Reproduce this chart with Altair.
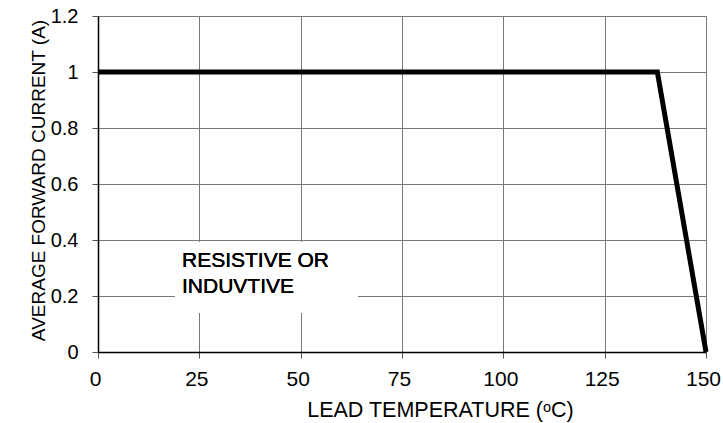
import altair as alt
import pandas as pd

temps = [0, 138, 150]
currents = [1, 1, 0]
x_ticks = [0, 25, 50, 75, 100, 125, 150]
y_ticks = [0, 0.2, 0.4, 0.6, 0.8, 1.0, 1.2]
note_lines = ["RESISTIVE OR", "INDUVTIVE"]

df = pd.DataFrame({"t": temps, "i": currents})

FONT = "Liberation Sans"

x_enc = alt.X("t:Q", scale=alt.Scale(domain=[0, 150], nice=False),
              axis=alt.Axis(values=x_ticks, title="LEAD TEMPERATURE (\u1d52C)", format="d",
                            labelFontSize=21, titleFontSize=21.5, labelFont=FONT, titleFont=FONT,
                            labelColor="black", titleColor="black", titleFontWeight="normal",
                            tickSize=6, labelPadding=10, labelOffset=-3,
                            gridColor="#777", gridWidth=1,
                            tickColor="#555", domainColor="black", domainWidth=1.5,
                            titleX=342, titleY=64, titleBaseline="alphabetic",
                            titleAnchor="start", titleAlign="center", labelFlush=False))
y_enc = alt.Y("i:Q", scale=alt.Scale(domain=[0, 1.2], nice=False),
              axis=alt.Axis(values=y_ticks, title="AVERAGE FORWARD CURRENT (A)", format="~g",
                            labelFontSize=20, titleFontSize=19, labelFont=FONT, titleFont=FONT,
                            labelColor="black", titleColor="black", titleFontWeight="normal",
                            tickSize=6, labelPadding=14, gridColor="#777", gridWidth=1,
                            tickColor="#555", domainColor="black", domainWidth=1.5,
                            titleX=-54, titleY=164, titleBaseline="alphabetic",
                            titleAngle=-90, titleAlign="center", titleAnchor="start",
                            labelFlush=False))

base = alt.Chart(df)

line = base.mark_line(color="black", strokeWidth=5, strokeJoin="miter", clip=False).encode(
    x=x_enc, y=y_enc)

box = base.mark_rect(color="white").encode(
    x=alt.value(77), x2=alt.value(260), y=alt.value(226), y2=alt.value(297))

note = base.mark_text(text=note_lines, align="left", baseline="alphabetic", fontSize=21,
                      font=FONT, color="black", lineHeight=26).encode(
    x=alt.value(84), y=alt.value(251))

chart = alt.layer(box, line, note).properties(
    width=608, height=336,
    padding={"left": 98, "top": 16, "right": 17, "bottom": 71},
    autosize=alt.AutoSizeParams(type="none"),
    background="white",
).configure_view(stroke=None)

chart.save("out.html", embed_options={"renderer": "svg", "actions": False})
